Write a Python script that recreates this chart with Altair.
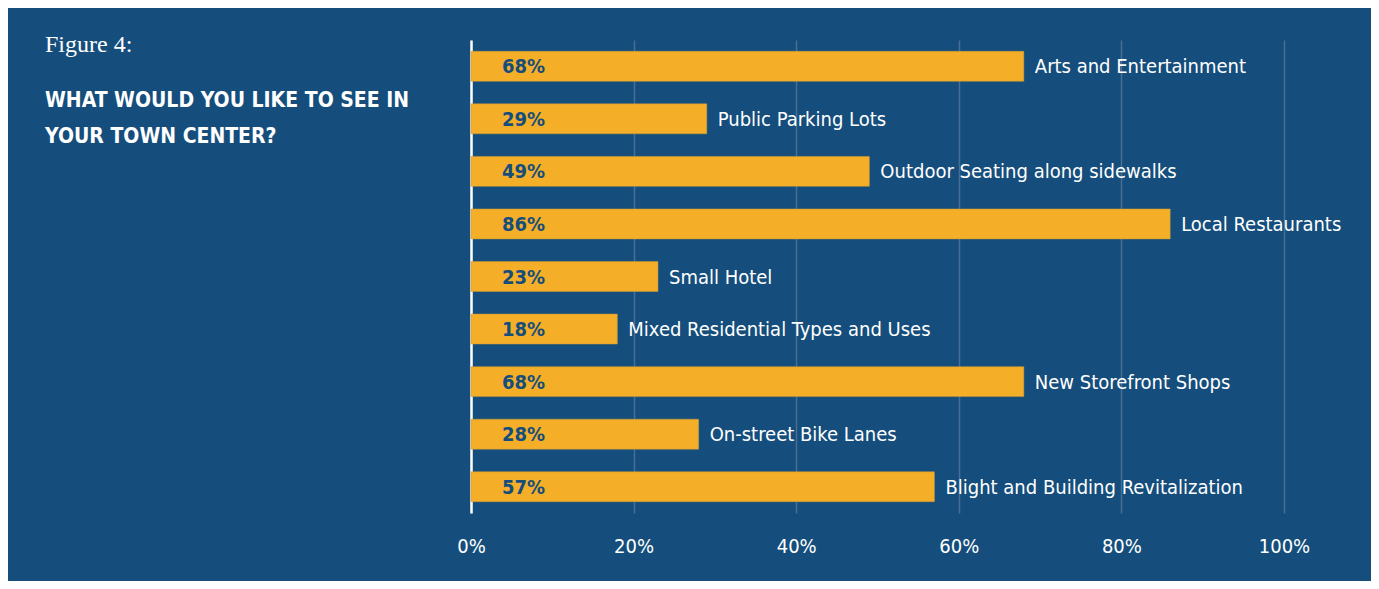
import altair as alt
import pandas as pd

categories = [
    "Arts and Entertainment",
    "Public Parking Lots",
    "Outdoor Seating along sidewalks",
    "Local Restaurants",
    "Small Hotel",
    "Mixed Residential Types and Uses",
    "New Storefront Shops",
    "On-street Bike Lanes",
    "Blight and Building Revitalization",
]
values = [68, 29, 49, 86, 23, 18, 68, 28, 57]
x_ticks = [0, 20, 40, 60, 80, 100]

fig_label = "Figure 4:"
title_lines = ["WHAT WOULD YOU LIKE TO SEE IN", "YOUR TOWN CENTER?"]

BG = "#154e7c"
BAR = "#f5ae27"
GRID = "#4a6d95"
FONT = "'DejaVu Sans Condensed', 'Roboto Condensed', 'Liberation Sans Narrow', Roboto, sans-serif"

df = pd.DataFrame({"cat": categories, "val": values})
df["pct"] = df["val"].astype(str) + "%"

y_enc = alt.Y("cat:N", sort=None, title=None,
              scale=alt.Scale(paddingInner=0.43, paddingOuter=0.215),
              axis=alt.Axis(labels=False, ticks=False, domain=True,
                            domainColor="white", domainWidth=2.5, grid=False))
x_enc = alt.X("val:Q", title=None,
              scale=alt.Scale(domain=[0, 100], nice=False),
              axis=alt.Axis(values=x_ticks, labelExpr="datum.value + '%'",
                            ticks=False, domain=False, grid=True,
                            gridColor=GRID, gridWidth=1.5,
                            labelColor="white", labelFont=FONT,
                            labelFontSize=20, labelPadding=23,
                            labelFlush=False,
                            labelFontWeight="normal"))

base = alt.Chart(df)

bars = base.mark_bar(color=BAR, stroke="#c99a3a", strokeWidth=0.5).encode(x=x_enc, y=y_enc)

pct = base.mark_text(align="left", baseline="middle", dx=31, dy=1,
                     font=FONT, fontSize=20, fontWeight="bold", color=BG).encode(
    x=alt.datum(0), y=alt.Y("cat:N", sort=None), text="pct:N")

cat_text = base.mark_text(align="left", baseline="middle", dx=11, dy=1,
                          font=FONT, fontSize=20, color="white").encode(
    x="val:Q", y=alt.Y("cat:N", sort=None), text="cat:N")

tdf = pd.DataFrame({"t": [fig_label]})
fig_text = alt.Chart(tdf).mark_text(align="left", baseline="alphabetic",
                                    font="Liberation Serif", fontSize=24,
                                    color="white").encode(
    x=alt.value(-426), y=alt.value(12), text="t:N")

hdf = pd.DataFrame({"t": [title_lines]})
head_text = alt.Chart(hdf).mark_text(align="left", baseline="alphabetic",
                                     font=FONT, fontSize=21, fontWeight="bold",
                                     lineHeight=36, color="white").encode(
    x=alt.value(-426), y=alt.value(67), text="t")

chart = alt.layer(bars, pct, cat_text, fig_text, head_text).properties(
    width=813, height=473,
    autosize=alt.AutoSizeParams(type="none"),
    padding={"left": 463, "top": 32, "right": 87, "bottom": 68},
    background=BG,
).configure_view(stroke=None)

chart.save("out.html", embed_options={"renderer": "svg", "actions": False})
